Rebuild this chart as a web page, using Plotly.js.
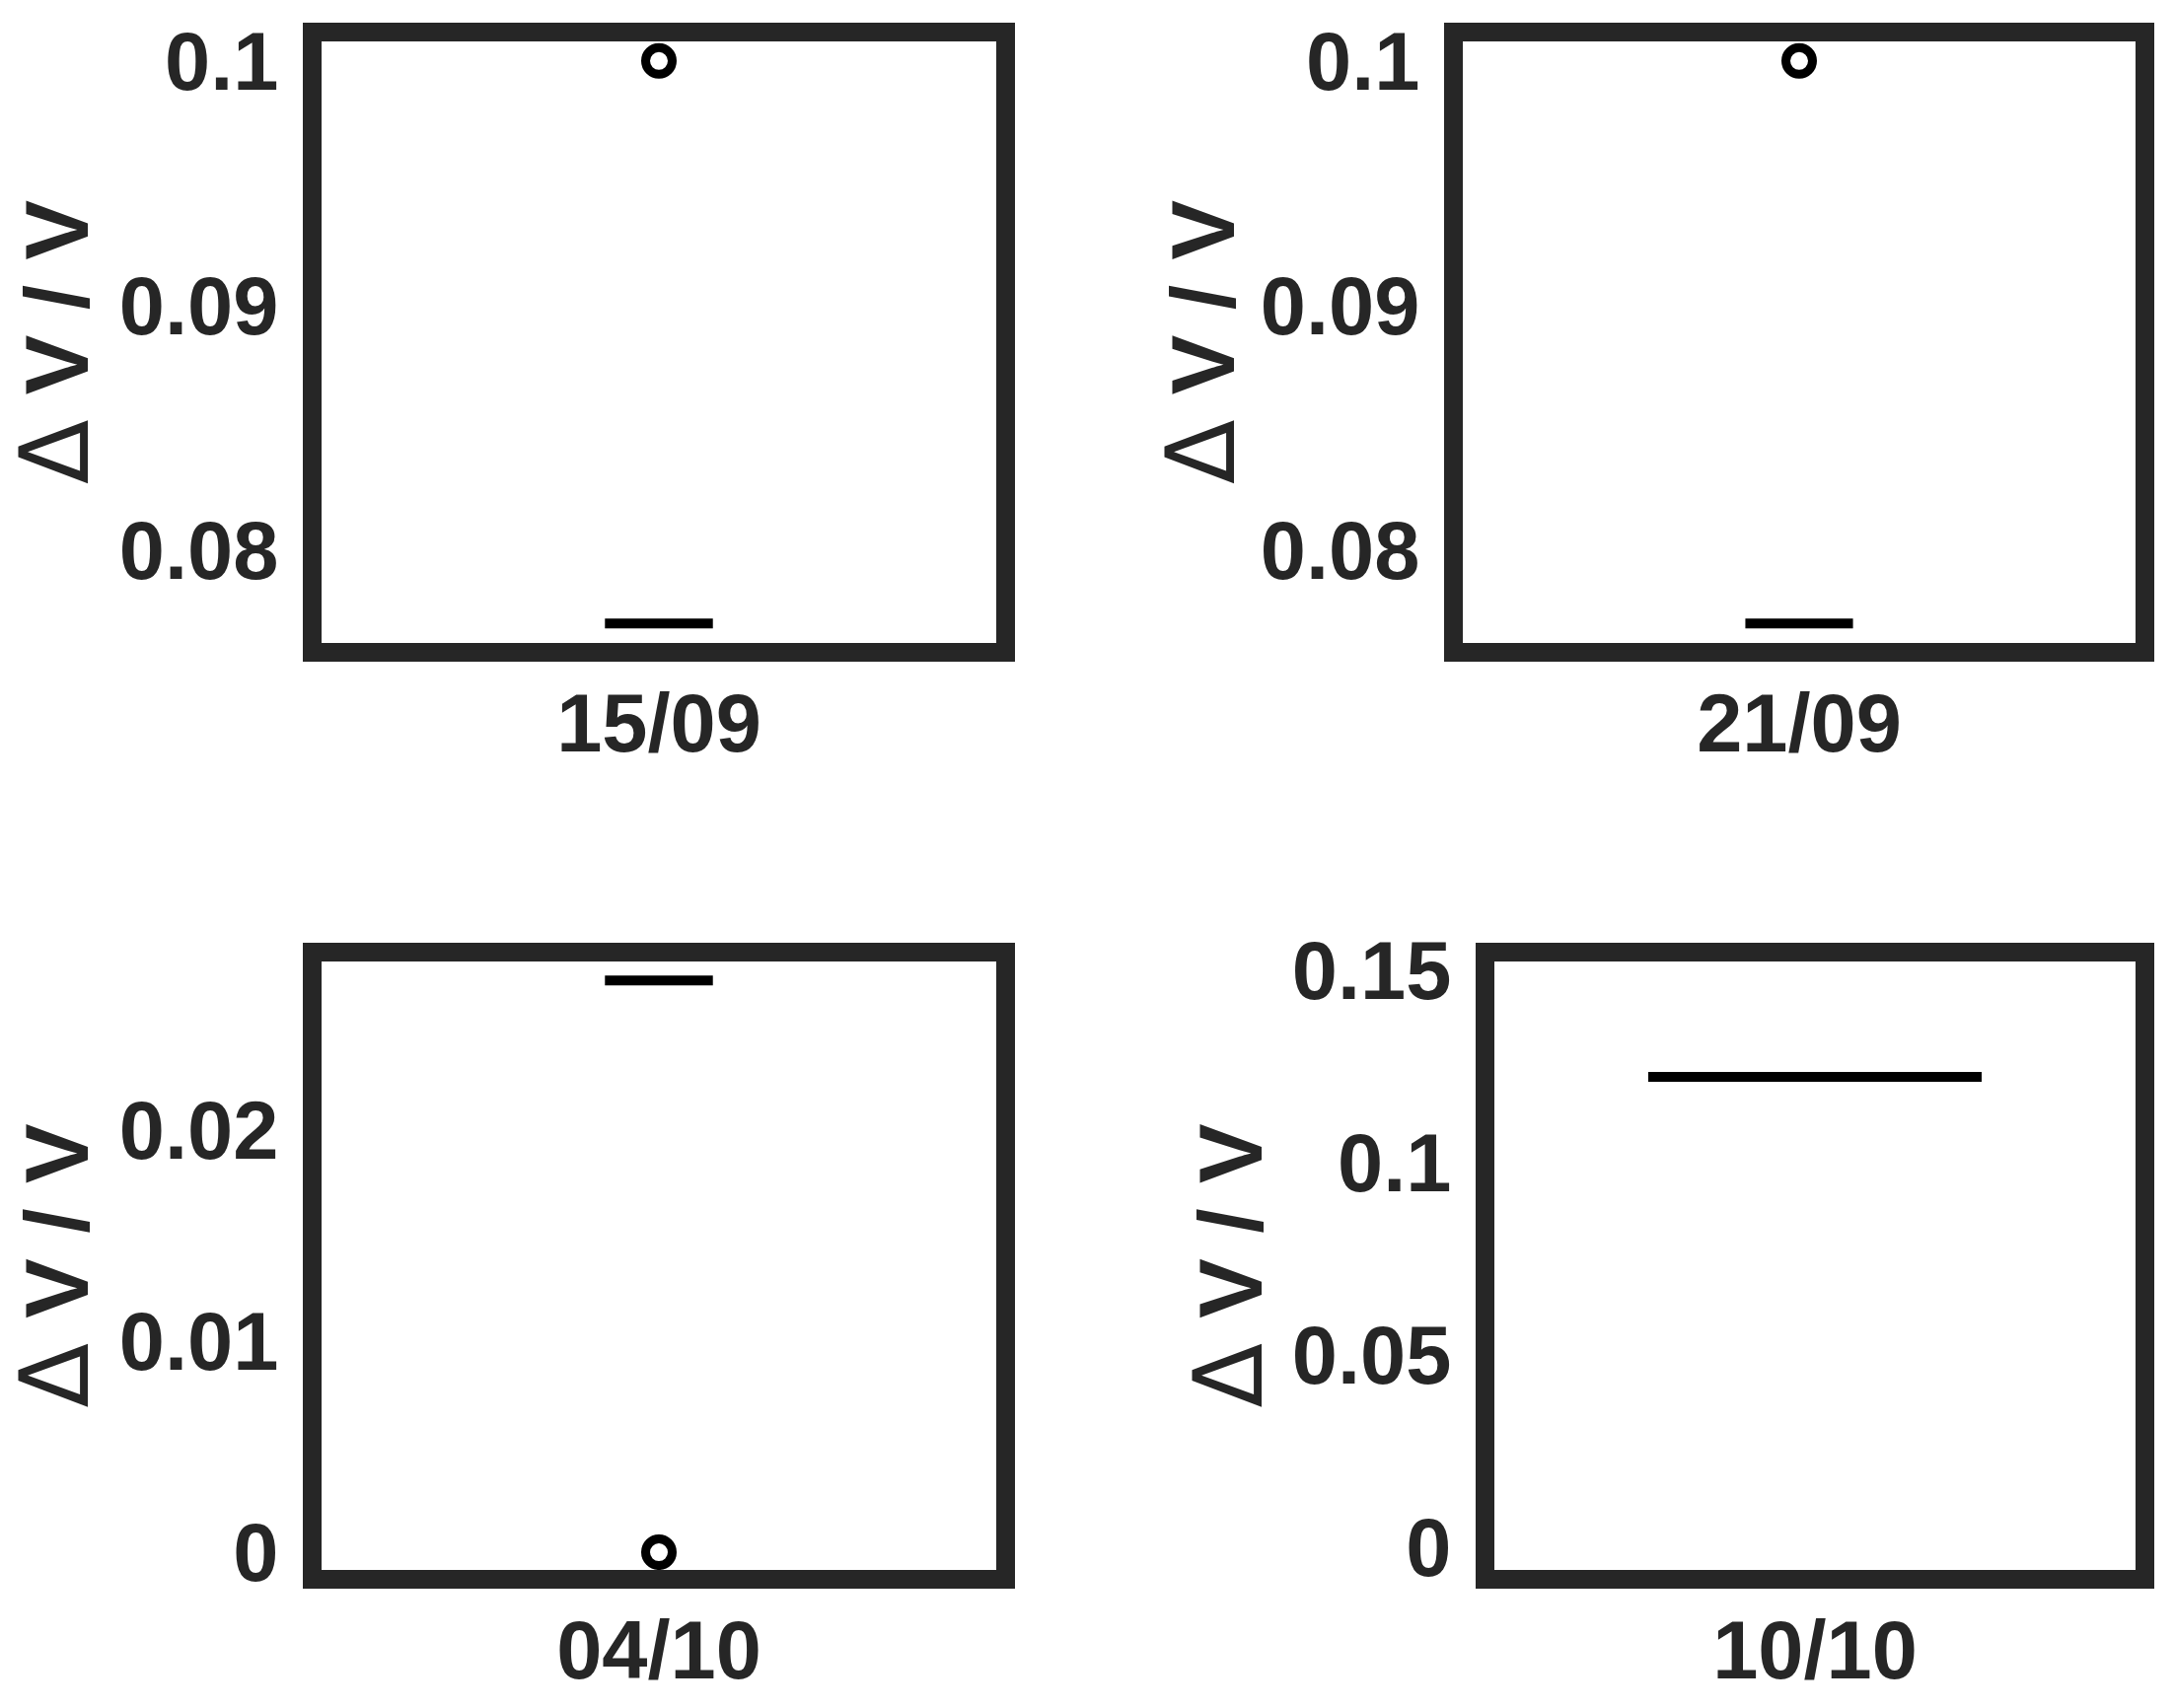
<!DOCTYPE html>
<html><head><meta charset="utf-8">
<script src="https://cdn.plot.ly/plotly-3.0.1.min.js"></script>
<style>html,body{margin:0;padding:0;background:#fff}</style>
</head><body><div id="chart" style="width:2204px;height:1732px"></div>
<script>
// ---- data ----
const dates = ["15/09", "21/09", "04/10", "10/10"];
const medianValues = [0.077, 0.077, 0.0271, 0.1223];
const outlierValues = [0.1, 0.1, 0.0, null];
const yTitle = "Δ V / V";

// ---- styling / layout ----
const W = 2204, H = 1732;
const ink = "#262626";
const fontFam = "'Liberation Sans', Arial, Helvetica, sans-serif";
const boxWidths = [0.16, 0.16, 0.16, 0.52];
const yRanges = [[0.0762, 0.1008], [0.0762, 0.1008], [-0.00084, 0.0280], [-0.0059, 0.1523]];
const yDticks = [0.01, 0.01, 0.01, 0.05];
const titleStandoffs = [23, 5, 23, 9];
// plot-area boxes in pixels: [left, right, top, bottom]
const boxesPx = [[326, 1010, 42, 652], [1483, 2165, 42, 652], [326, 1010, 975, 1592], [1515, 2165, 975, 1592]];

const titleHtml = yTitle.replace("Δ", "<span style='font-family:\"DejaVu Sans\";font-weight:normal;font-size:96px'>Δ</span>");

const traces = [];
const layout = {
  width: W, height: H,
  margin: {l: 0, r: 0, t: 0, b: 0},
  paper_bgcolor: "#fff", plot_bgcolor: "#fff",
  showlegend: false,
  font: {family: fontFam, color: ink}
};

dates.forEach((d, i) => {
  const n = i === 0 ? "" : String(i + 1);
  const xa = "x" + n, ya = "y" + n;
  const m = medianValues[i];
  traces.push({
    type: "box", xaxis: xa, yaxis: ya,
    x: [d], q1: [m], median: [m], q3: [m], lowerfence: [m], upperfence: [m],
    width: boxWidths[i], whiskerwidth: 0,
    fillcolor: "rgba(0,0,0,0)",
    line: {color: "#000", width: 10},
    hoverinfo: "skip"
  });
  if (outlierValues[i] !== null) {
    traces.push({
      type: "scatter", mode: "markers", xaxis: xa, yaxis: ya,
      x: [d], y: [outlierValues[i]],
      marker: {symbol: "circle-open", size: 27, color: "#000", line: {width: 9, color: "#000"}},
      hoverinfo: "skip"
    });
  }
  const b = boxesPx[i];
  const common = {
    showline: true, mirror: true, linewidth: 19, linecolor: ink,
    showgrid: false, zeroline: false, ticks: "",
    tickfont: {family: fontFam, size: 83, color: ink, weight: "bold"}
  };
  layout["xaxis" + n] = Object.assign({}, common, {
    anchor: ya, type: "category", range: [-0.5, 0.5],
    domain: [b[0] / W, b[1] / W],
    ticklabelstandoff: -9
  });
  layout["yaxis" + n] = Object.assign({}, common, {
    anchor: xa, range: yRanges[i],
    domain: [1 - b[3] / H, 1 - b[2] / H],
    tickmode: "linear", tick0: 0, dtick: yDticks[i],
    ticklabelstandoff: 8,
    title: {text: titleHtml, standoff: titleStandoffs[i],
            font: {family: fontFam, size: 91, color: ink, weight: "bold"}}
  });
});

Plotly.newPlot("chart", traces, layout, {staticPlot: true, displayModeBar: false});
</script></body></html>
